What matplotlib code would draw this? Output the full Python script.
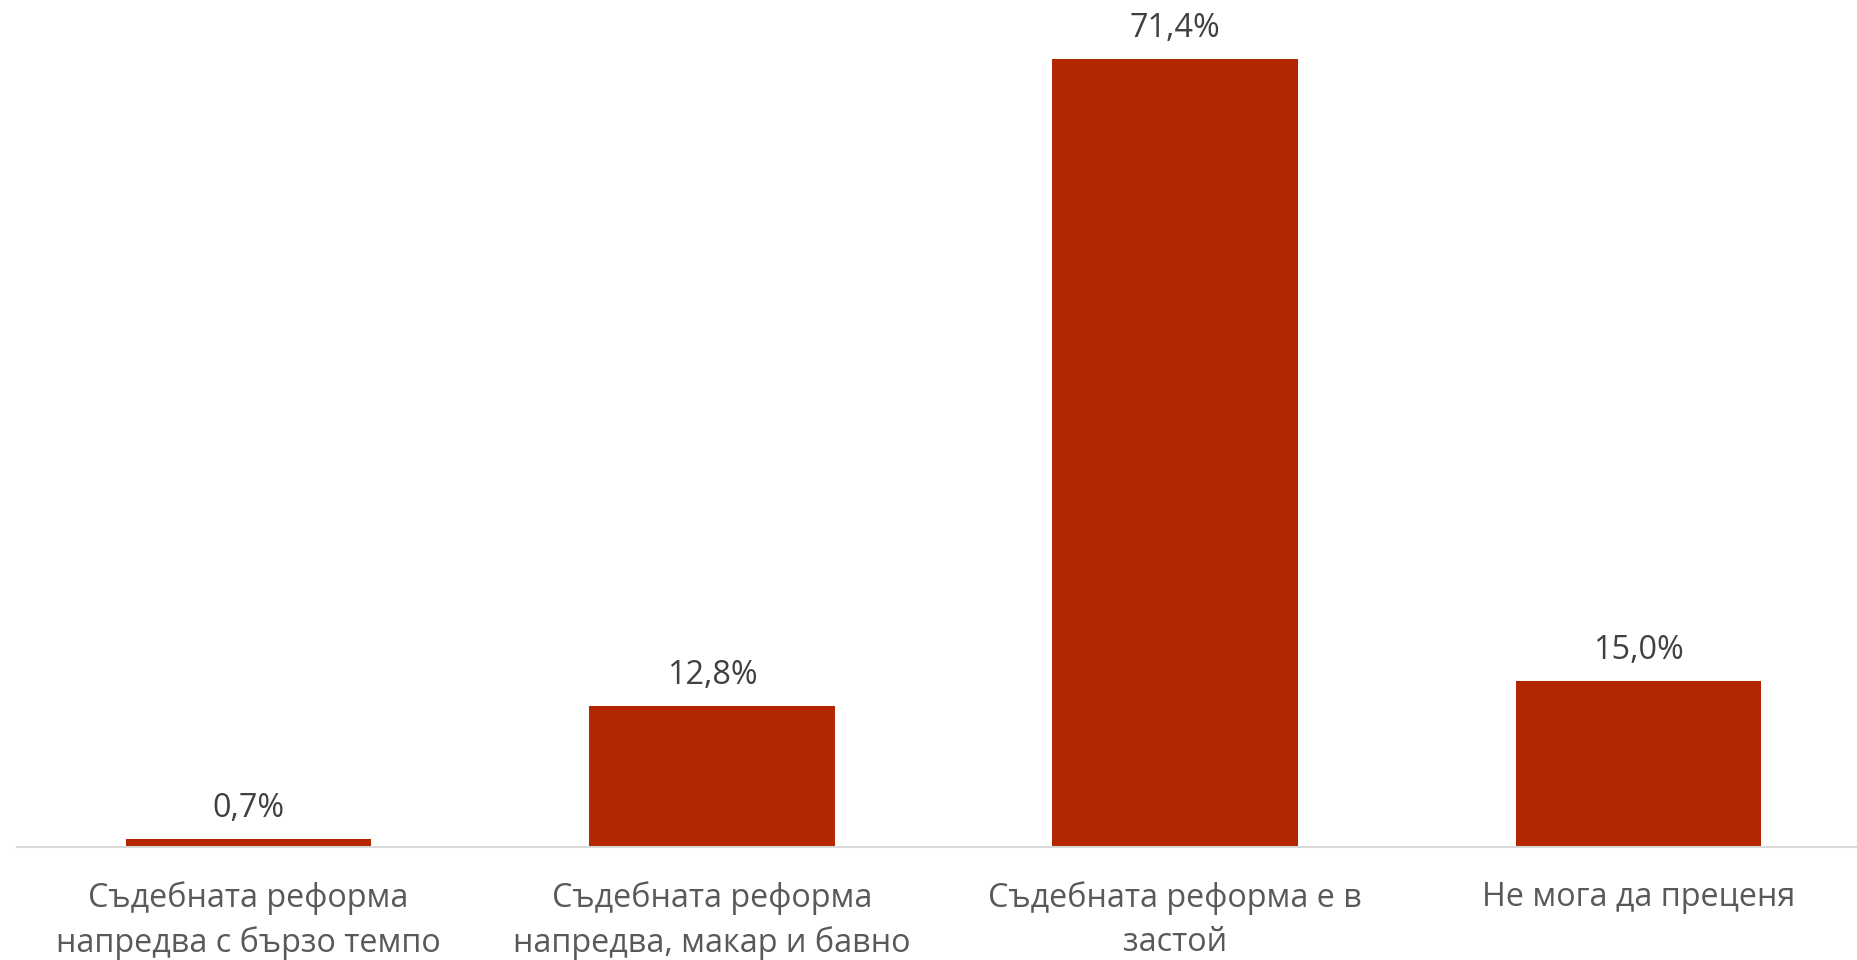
import matplotlib.pyplot as plt

plt.rcParams['font.family'] = ['Open Sans', 'DejaVu Sans']

categories = ['Съдебната реформа\nнапредва с бързо темпо',
              'Съдебната реформа\nнапредва, макар и бавно',
              'Съдебната реформа е в\nзастой',
              'Не мога да преценя']
values = [0.7, 12.8, 71.4, 15.0]
labels = ['0,7%', '12,8%', '71,4%', '15,0%']

fig = plt.figure(figsize=(18.58, 9.6), dpi=100)
ax = fig.add_axes([17 / 1858, 1 - 847 / 960, 1 - 17 / 1858, 847 / 960])

bars = ax.bar(range(len(values)), values, width=0.53, color='#B22600')
for b, lab in zip(bars, labels):
    ax.annotate(lab, (b.get_x() + b.get_width() / 2, b.get_height()),
                xytext=(0, 10), textcoords='offset points',
                ha='center', va='bottom', fontsize=23.3, color='#404040')

ax.set_xlim(-0.5, 3.474)
ax.set_ylim(0, 76.7)
ax.set_xticks(range(len(values)))
ax.set_xticklabels(categories, fontsize=23.3, color='#595959', linespacing=1.45)
ax.tick_params(axis='x', length=0, pad=24.5)
ax.set_yticks([])
for s in ['top', 'right', 'left']:
    ax.spines[s].set_visible(False)
ax.spines['bottom'].set_color('#d9d9d9')
ax.spines['bottom'].set_linewidth(1.5)

fig.savefig('out.png', dpi=100)
